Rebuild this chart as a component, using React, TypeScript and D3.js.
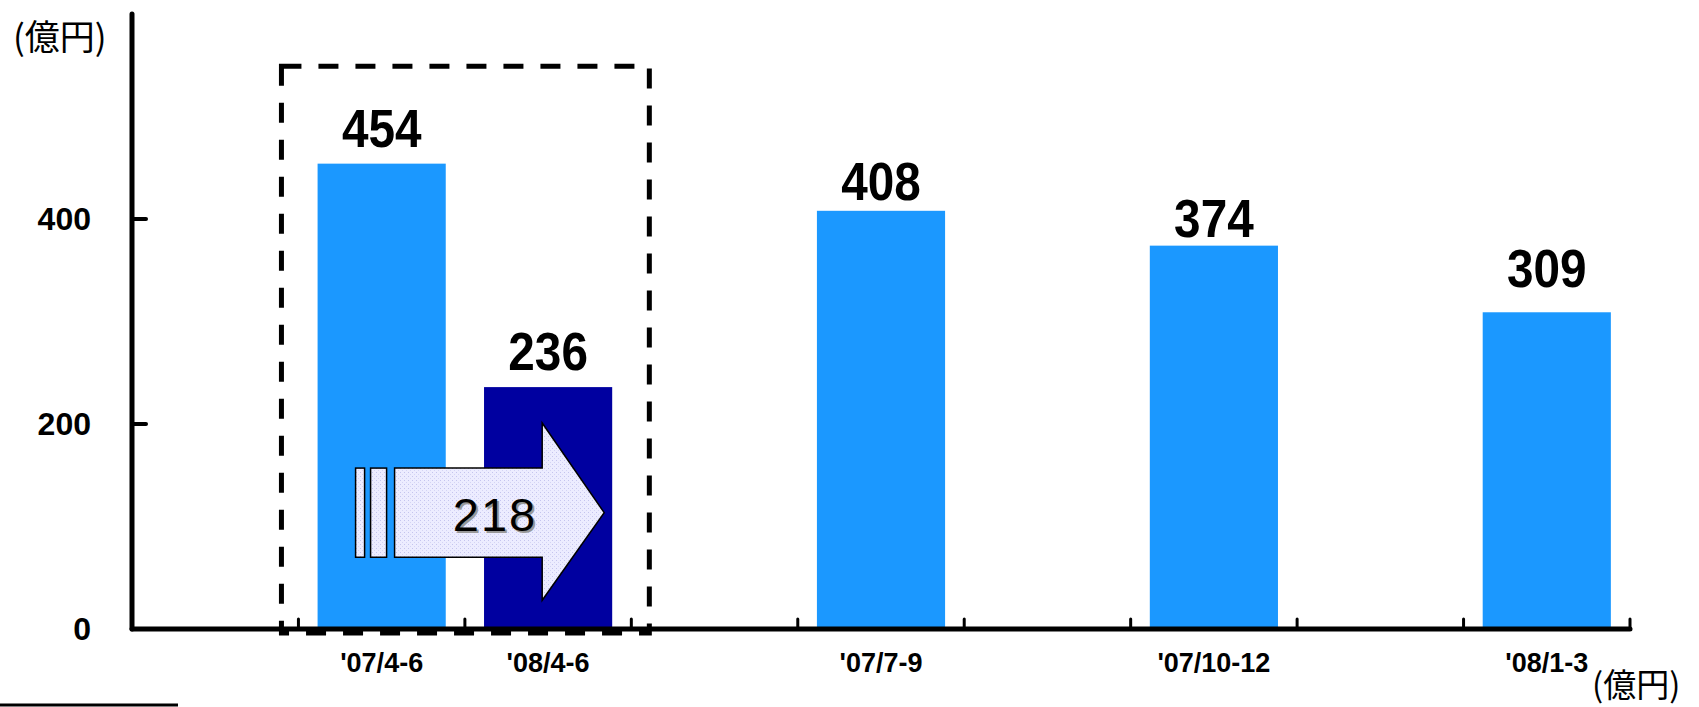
import React from "react";
import * as d3 from "d3";

// ---- data ----
const categories = ["'07/4-6", "'08/4-6", "'07/7-9", "'07/10-12", "'08/1-3"];
const values = [454, 236, 408, 374, 309];
const slotIndex = [1, 2, 4, 6, 8]; // position among 9 axis slots
const highlighted = [false, true, false, false, false];
const yTicks = [0, 200, 400];
const diffValue = 218;
const unitLabel = "(億円)";

const W = 1699;
const H = 707;
const AX_X = 132;
const AX_END = 1630;
const SLOTS = 9;

const x = d3.scaleBand<number>().domain(d3.range(SLOTS)).range([AX_X, AX_END]).padding(0);
const y = d3.scaleLinear().domain([0, 600]).range([629, 14]);

const LIGHT = "#1B98FF";
const DARK = "#0000A0";
const labelDy = [17, 17, 11, 9, 25];

export default function App() {
  const step = x.step();
  const barW = step * 0.77;
  const barX = (i: number) => (x(slotIndex[i]) as number) + (step - barW) / 2;
  const cx = (i: number) => (x(slotIndex[i]) as number) + step / 2;

  // annotation geometry (derived from scales)
  const b0 = barX(0);
  const b1r = barX(1) + barW;
  const boxL = (x(1) as number) - 17;
  const boxR = (x(2) as number) + step + 18;
  const boxT = y(549);
  const boxB = y(-4);

  const shaftTop = y(157);
  const shaftBot = y(70);
  const headTop = y(201);
  const headBot = y(28);
  const midY = (shaftTop + shaftBot) / 2;
  const r1x = b0 + 38;
  const r2x = b0 + 53;
  const shaftX = b0 + 77;
  const headX = b1r - 70;
  const tipX = b1r - 8;
  const arrowPath = `M${shaftX},${shaftTop} L${headX},${shaftTop} L${headX},${headTop} L${tipX},${midY} L${headX},${headBot} L${headX},${shaftBot} L${shaftX},${shaftBot} Z`;

  const boundaryTicks = d3.range(1, SLOTS + 1).map((k) => AX_X + k * step);

  const sans = "'Liberation Sans', Arial, sans-serif";
  const cjk = "'Noto Sans CJK JP', 'Noto Sans', sans-serif";

  return (
    <svg width={W} height={H} style={{ position: "absolute", left: 0, top: 0, background: "#fff" }}>
      <defs>
        <pattern id="dots" width="4" height="4" patternUnits="userSpaceOnUse">
          <rect width="4" height="4" fill="#ECECFF" />
          <rect x="0" y="0" width="1" height="1" fill="#C4C4EE" />
          <rect x="2" y="2" width="1" height="1" fill="#D4D4F4" />
        </pattern>
      </defs>

      {/* bars */}
      {values.map((v, i) => (
        <rect
          key={categories[i]}
          x={barX(i)}
          y={y(v)}
          width={barW}
          height={y(0) - y(v)}
          fill={highlighted[i] ? DARK : LIGHT}
        />
      ))}

      {/* value labels */}
      {values.map((v, i) => (
        <text
          key={"v" + i}
          transform={`translate(${cx(i)},${y(v) - labelDy[i]}) scale(0.9,1)`}
          textAnchor="middle"
          fontFamily={sans}
          fontWeight="bold"
          fontSize={53}
          fill="#000"
        >
          {v}
        </text>
      ))}

      {/* dashed box */}
      <rect
        x={boxL}
        y={boxT}
        width={boxR - boxL}
        height={boxB - boxT}
        fill="none"
        stroke="#000"
        strokeWidth={5}
        strokeDasharray="20,17"
      />

      {/* arrow */}
      <rect x={r1x} y={shaftTop} width={9} height={shaftBot - shaftTop} fill="url(#dots)" stroke="#000" strokeWidth={1.5} />
      <rect x={r2x} y={shaftTop} width={16} height={shaftBot - shaftTop} fill="url(#dots)" stroke="#000" strokeWidth={1.5} />
      <path d={arrowPath} fill="url(#dots)" stroke="#000" strokeWidth={1.5} strokeLinejoin="miter" />
      <text x={497} y={533} textAnchor="middle" fontFamily={sans} fontSize={47} fill="#999" letterSpacing={2}>
        {diffValue}
      </text>
      <text x={495} y={531} textAnchor="middle" fontFamily={sans} fontSize={47} fill="#000" letterSpacing={2}>
        {diffValue}
      </text>

      {/* y axis */}
      <line x1={AX_X} x2={AX_X} y1={y(600)} y2={y(0)} stroke="#000" strokeWidth={5} strokeLinecap="round" />
      {yTicks.map((t) => (
        <g key={"yt" + t}>
          {t > 0 && <line x1={AX_X} x2={AX_X + 14} y1={y(t)} y2={y(t)} stroke="#000" strokeWidth={4} strokeLinecap="round" />}
          <text x={91} y={y(t) + 11} textAnchor="end" fontFamily={sans} fontWeight="bold" fontSize={32} fill="#000">
            {t}
          </text>
        </g>
      ))}

      {/* x axis */}
      <line x1={AX_X} x2={AX_END} y1={y(0)} y2={y(0)} stroke="#000" strokeWidth={5} strokeLinecap="round" />
      {boundaryTicks.map((tx, k) => (
        <line key={"xt" + k} x1={tx} x2={tx} y1={y(0)} y2={y(0) - 10} stroke="#000" strokeWidth={3} strokeLinecap="round" />
      ))}
      {categories.map((c, i) => (
        <text
          key={"xl" + i}
          x={cx(i)}
          y={672}
          textAnchor="middle"
          fontFamily={sans}
          fontWeight="bold"
          fontSize={27}
          fill="#000"
        >
          {c}
        </text>
      ))}

      {/* unit labels */}
      <text x={13} y={50} fontFamily={cjk} fontSize={35} fill="#000">
        {unitLabel}
      </text>
      <text x={1592} y={697} fontFamily={cjk} fontSize={33} fill="#000">
        {unitLabel}
      </text>

      {/* footnote rule */}
      <line x1={0} x2={178} y1={705} y2={705} stroke="#000" strokeWidth={3} />
    </svg>
  );
}
